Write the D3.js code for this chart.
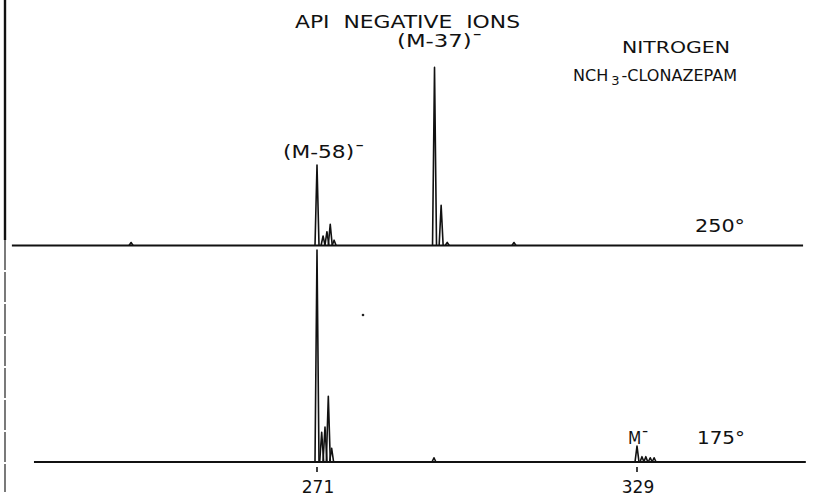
<!DOCTYPE html>
<html>
  <head>
    <meta charset="utf-8" />
    <title>API Negative Ions – NCH3-Clonazepam</title>
    <script src="https://d3js.org/d3.v7.min.js"></script>
    <style>
      body { margin: 0; background: #fff; }
      svg text { font-family: "DejaVu Sans", sans-serif; fill: #111; white-space: pre; }
    </style>
  </head>
  <body>
    <svg width="818" height="497"></svg>
    <script>
      // m/z ticks shown under the lower trace
      const mzTicks = [271, 329];

      // scan range of each trace (m/z)
      const upperScan = [215.7, 359.1];
      const lowerScan = [219.7, 359.6];

      // 250° trace: peak m/z and relative intensity
      const upperMz  = [237.3, 271, 272.1, 272.8, 273.4, 274.1, 292.3, 293.5, 294.6, 306.7];
      const upperInt = [1.4,   38,  4.5,   6.5,   10,    2.5,   84,    19,    1.5,   1.4];

      // 175° trace
      const lowerMz  = [271, 271.85, 272.45, 273.05, 273.65, 292.2, 329, 329.9, 330.6, 331.4, 332.1];
      const lowerInt = [100, 14,     16.5,   31,     6.5,    2,     7.5, 2.5,   2.5,   2,     2];

      const svg = d3.select("svg");

      const x = d3.scaleLinear().domain([271, 329]).range([317, 637]);
      const yUpper = d3.scaleLinear().domain([0, 100]).range([245.5, 33.5]);
      const yLower = d3.scaleLinear().domain([0, 100]).range([462, 250]);

      // left border line of the recorder chart
      svg.append("line")
         .attr("x1", 5).attr("x2", 5).attr("y1", 0).attr("y2", 240)
         .attr("stroke", "#111").attr("stroke-width", 2.4);
      svg.append("line")
         .attr("x1", 5).attr("x2", 5).attr("y1", 240).attr("y2", 492)
         .attr("stroke", "#333").attr("stroke-width", 1.3)
         .attr("stroke-dasharray", "30,2");

      // draw one trace: baseline plus spike for each peak
      function drawTrace(scan, mz, inten, y) {
        const g = svg.append("g");
        g.append("line")
         .attr("x1", x(scan[0])).attr("x2", x(scan[1]))
         .attr("y1", y(0)).attr("y2", y(0))
         .attr("stroke", "#111").attr("stroke-width", 1.8);
        const w = 2;
        g.selectAll("path")
         .data(mz.map((m, i) => ({ m: m, v: inten[i] })))
         .enter().append("path")
         .attr("d", d => "M" + (x(d.m) - w) + "," + y(0) +
                         "L" + x(d.m) + "," + y(d.v) +
                         "L" + (x(d.m) + w) + "," + y(0))
         .attr("fill", "none")
         .attr("stroke", "#111")
         .attr("stroke-width", 1.6)
         .attr("stroke-linejoin", "round");
        return g;
      }

      drawTrace(upperScan, upperMz, upperInt, yUpper);
      drawTrace(lowerScan, lowerMz, lowerInt, yLower);

      // tick marks and labels under the lower trace
      svg.selectAll(".tick")
         .data(mzTicks)
         .enter().append("line")
         .attr("class", "tick")
         .attr("x1", d => x(d)).attr("x2", d => x(d))
         .attr("y1", yLower(0) + 5).attr("y2", yLower(0) + 10)
         .attr("stroke", "#111").attr("stroke-width", 1.6);
      svg.selectAll(".ticklabel")
         .data(mzTicks)
         .enter().append("text")
         .attr("class", "ticklabel")
         .attr("x", d => x(d) + 1)
         .attr("y", 493)
         .attr("text-anchor", "middle")
         .attr("font-size", 17)
         .text(d => d);

      // stray speck on the chart paper
      svg.append("circle").attr("cx", 363).attr("cy", 315).attr("r", 1.3).attr("fill", "#222");

      // stretched text, like the lettering guide on the original
      function label(txt, xs, yb, size, len) {
        return svg.append("text")
          .attr("x", xs).attr("y", yb)
          .attr("font-size", size)
          .attr("textLength", len).attr("lengthAdjust", "spacingAndGlyphs")
          .text(txt);
      }

      label("API  NEGATIVE  IONS", 295, 28, 17, 225);

      // peak labels, macron as the raised minus sign
      label("(M-58)\u00AF", 283, 158, 17, 82);
      label("(M-37)\u00AF", 397, 47, 17, 86);
      label("M\u00AF", 628, 444, 17, 21);

      label("NITROGEN", 622, 53, 15, 108);

      const comp = svg.append("text")
         .attr("x", 573).attr("y", 81)
         .attr("font-size", 16)
         .attr("textLength", 164).attr("lengthAdjust", "spacingAndGlyphs");
      comp.append("tspan").text("NCH");
      comp.append("tspan").attr("dx", 3).attr("dy", 4).attr("font-size", 13).text("3");
      comp.append("tspan").attr("dx", 2).attr("dy", -4).text("-CLONAZEPAM");

      // temperature labels
      label("250°", 695, 232, 17, 50);
      label("175°", 697, 444, 17, 48);
    </script>
  </body>
</html>
